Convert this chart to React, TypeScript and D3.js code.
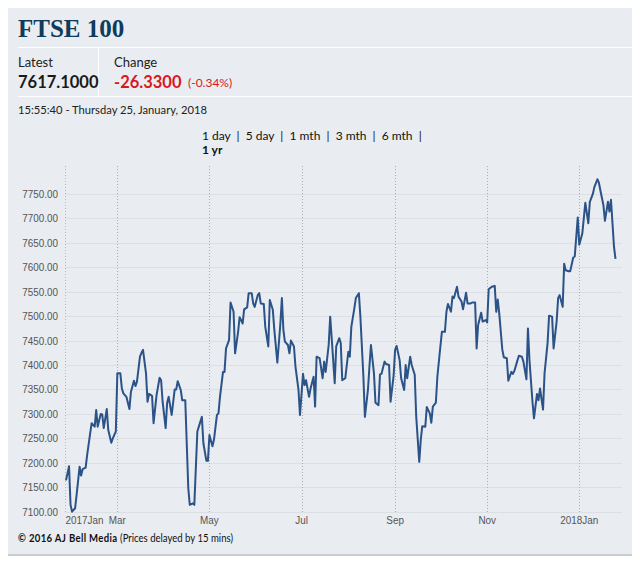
import React from "react";
import * as d3 from "d3";

const startDate = "2017-01-25";
const endDate = "2018-01-25";

// days after startDate for each close
const dayOffsets = [
  1, 3, 4, 5, 7, 8, 10, 11, 12, 14, 15, 17, 18, 20, 21, 22, 24, 25, 26, 28, 29, 31, 32, 34, 35, 37, 38, 39, 41, 43,
  44, 46, 47, 48, 50, 51, 52, 54, 55, 56, 58, 59, 61, 63, 64, 65, 67, 68, 69, 71, 73, 74, 75, 77, 78, 80, 82, 83, 85, 86,
  88, 89, 91, 92, 94, 95, 96, 98, 99, 101, 102, 103, 105, 106, 107, 109, 110, 112, 113, 115, 116, 118, 119, 121, 122, 124, 125, 126, 128, 129,
  130, 132, 133, 135, 136, 138, 139, 141, 143, 144, 145, 146, 148, 149, 150, 152, 153, 155, 156, 158, 159, 160, 162, 163, 165, 166, 167, 169, 171, 172,
  173, 175, 176, 177, 179, 180, 182, 183, 184, 186, 188, 189, 190, 192, 193, 195, 196, 198, 199, 201, 202, 203, 205, 206, 208, 209, 210, 212, 213, 215,
  216, 218, 219, 220, 222, 223, 225, 226, 227, 229, 230, 232, 233, 235, 236, 237, 239, 240, 242, 243, 244, 246, 247, 249, 250, 252, 253, 254, 256, 257,
  258, 260, 261, 263, 264, 266, 267, 269, 270, 272, 273, 274, 276, 277, 279, 280, 281, 283, 285, 286, 287, 288, 290, 291, 293, 294, 296, 297, 298, 300,
  301, 303, 304, 306, 307, 308, 310, 311, 313, 314, 315, 317, 318, 320, 321, 323, 324, 326, 327, 328, 330, 331, 332, 334, 335, 337, 338, 340, 341, 343,
  344, 345, 347, 348, 350, 351, 353, 354, 355, 357, 358, 360, 361, 362, 364, 365,
];

const closes = [
  7164, 7193, 7114, 7100, 7107, 7134, 7192, 7174, 7187, 7190, 7216, 7260, 7281, 7274, 7308, 7274, 7300, 7299, 7271, 7310, 7267, 7241, 7250, 7264, 7383, 7383, 7352, 7342, 7335, 7310,
  7345, 7368, 7357, 7366, 7417, 7425, 7431, 7383, 7325, 7341, 7337, 7281, 7339, 7374, 7369, 7325, 7271, 7323, 7335, 7298, 7350, 7350, 7367, 7349, 7328, 7328, 7148, 7114, 7117, 7114,
  7264, 7274, 7294, 7240, 7204, 7204, 7257, 7234, 7247, 7298, 7301, 7335, 7386, 7386, 7434, 7451, 7528, 7509, 7424, 7468, 7498, 7485, 7514, 7518, 7547, 7547, 7526, 7519, 7543, 7547,
  7526, 7525, 7478, 7438, 7533, 7513, 7472, 7405, 7485, 7537, 7472, 7448, 7441, 7424, 7450, 7438, 7397, 7349, 7298, 7382, 7359, 7369, 7335, 7352, 7376, 7315, 7417, 7414, 7373, 7407,
  7386, 7441, 7499, 7455, 7363, 7438, 7455, 7445, 7369, 7373, 7427, 7417, 7478, 7516, 7537, 7547, 7499, 7376, 7294, 7349, 7397, 7441, 7383, 7323, 7318, 7381, 7382, 7407, 7402, 7400,
  7325, 7378, 7431, 7439, 7410, 7373, 7349, 7400, 7373, 7417, 7400, 7380, 7294, 7202, 7247, 7275, 7274, 7314, 7301, 7282, 7315, 7323, 7376, 7438, 7468, 7468, 7509, 7525, 7509, 7540,
  7537, 7560, 7540, 7530, 7514, 7548, 7526, 7526, 7528, 7528, 7434, 7482, 7507, 7489, 7492, 7487, 7555, 7560, 7562, 7509, 7534, 7505, 7432, 7416, 7414, 7368, 7386, 7382, 7388, 7409,
  7419, 7417, 7407, 7371, 7475, 7410, 7325, 7291, 7341, 7328, 7352, 7309, 7383, 7445, 7501, 7499, 7434, 7489, 7537, 7543, 7519, 7607, 7594, 7592, 7592, 7620, 7622, 7702, 7646, 7669,
  7700, 7732, 7690, 7734, 7750, 7764, 7780, 7773, 7757, 7727, 7695, 7734, 7714, 7738, 7642, 7617.1,
];

const yTicks = [7100, 7150, 7200, 7250, 7300, 7350, 7400, 7450, 7500, 7550, 7600, 7650, 7700, 7750];
const monthLabels = ["2017Jan", "Mar", "May", "Jul", "Sep", "Nov", "2018Jan"];
const rangeLabels = ["1 day", "5 day", "1 mth", "3 mth", "6 mth"];

const title = "FTSE 100";
const latestValue = "7617.1000";
const changeValue = "-26.3300";
const changePct = "(-0.34%)";
const timestamp = "15:55:40 - Thursday 25, January, 2018";

export default function App() {
  const parse = d3.utcParse("%Y-%m-%d");
  const d0 = parse(startDate) as Date;
  const d1 = parse(endDate) as Date;
  const data = closes.map((v, i) => ({ date: d3.utcDay.offset(d0, dayOffsets[i]), value: v }));

  const plotLeft = 65.5;
  const plotRight = 622;
  const plotTop = 166;
  const plotBottom = 512;

  const x = d3.scaleUtc().domain([d0, d1]).range([64.5, 615.5]);
  const y = d3.scaleLinear().domain([7100, 7800]).range([511.7, 169.5]);

  const line = d3
    .line<{ date: Date; value: number }>()
    .x((d) => x(d.date))
    .y((d) => y(d.value));

  const monthTicks = x.ticks(d3.utcMonth.every(2) as any);

  const axisFont = "'Liberation Sans', Arial, sans-serif";
  const uiFont = "Lato, 'Open Sans', sans-serif";
  const sx = 0.86;

  return (
    <svg width={640} height={565} style={{ position: "absolute", left: 0, top: 0 }}>
      <rect x={0} y={0} width={640} height={565} fill="#ffffff" />
      <rect x={8} y={8} width={624} height={547} fill="#e9ecf0" />
      <line x1={8} x2={632} y1={555} y2={555} stroke="#c9ccd0" strokeWidth={2} />

      <text x={18} y={37} fontFamily="'Liberation Serif', 'DejaVu Serif', serif" fontWeight={700} fontSize={25} fill="#0f3b5c">
        {title}
      </text>

      <line x1={18} x2={632} y1={47.5} y2={47.5} stroke="#ffffff" strokeWidth={1} />
      <line x1={18} x2={632} y1={96.5} y2={96.5} stroke="#ffffff" strokeWidth={1} />
      <line x1={98.5} x2={98.5} y1={47.5} y2={96.5} stroke="#ffffff" strokeWidth={1} />

      <text x={18} y={66.5} fontFamily={uiFont} fontSize={13} fill="#222">Latest</text>
      <text x={18} y={87.5} fontFamily={uiFont} fontSize={16.5} fontWeight={700} fill="#1a1a1a">{latestValue}</text>
      <text x={114} y={66.5} fontFamily={uiFont} fontSize={13} fill="#222">Change</text>
      <text x={114} y={87.5} fontFamily={uiFont} fontSize={16.5} fontWeight={700} fill="#d7191f">{changeValue}</text>
      <text x={188} y={87} fontFamily={uiFont} fontSize={12} fill="#d7191f">{changePct}</text>
      <text x={18} y={113.5} fontFamily={uiFont} fontSize={11.2} fill="#222">{timestamp}</text>

      <text x={202} y={139.5} fontFamily={uiFont} fontSize={12} fill="#111" style={{ whiteSpace: "pre" }}>
        {rangeLabels.join("  |  ") + "  |"}
      </text>
      <text x={202} y={153.5} fontFamily={uiFont} fontSize={12} fontWeight={700} fill="#111">1 yr</text>

      {yTicks.map((t) => (
        <g key={t}>
          <line x1={plotLeft} x2={plotRight} y1={Math.round(y(t)) + 0.5} y2={Math.round(y(t)) + 0.5} stroke="#dcdfe3" strokeWidth={1} />
          <text transform={`translate(58,${y(t) + 4}) scale(${sx},1)`} textAnchor="end" fontFamily={axisFont} fontSize={11.5} fill="#555">
            {d3.format(".2f")(t)}
          </text>
        </g>
      ))}

      <line x1={plotLeft} x2={plotLeft} y1={plotTop} y2={plotBottom} stroke="#b5b8bc" strokeWidth={1} strokeDasharray="1,2" />
      {monthTicks.map((t) => (
        <line key={+t} x1={Math.round(x(t)) + 0.5} x2={Math.round(x(t)) + 0.5} y1={plotTop} y2={plotBottom} stroke="#a9acb0" strokeWidth={1} strokeDasharray="1,2" />
      ))}

      <text transform={`translate(${plotLeft},524) scale(${sx},1)`} fontFamily={axisFont} fontSize={11.5} fill="#555">{monthLabels[0]}</text>
      {monthTicks.map((t, i) => (
        <text key={+t} transform={`translate(${x(t)},524) scale(${sx},1)`} textAnchor="middle" fontFamily={axisFont} fontSize={11.5} fill="#555">
          {monthLabels[i + 1]}
        </text>
      ))}

      <path d={line(data) as string} fill="none" stroke="#2b5387" strokeWidth={2} strokeLinejoin="round" />

      <text transform="translate(18,541.5) scale(0.87,1)" fontFamily={uiFont} fontSize={11} fill="#111">
        <tspan fontWeight={700} letterSpacing={0.4}>© 2016 AJ Bell Media</tspan>
        <tspan dx={3}>(Prices delayed by 15 mins)</tspan>
      </text>
    </svg>
  );
}
